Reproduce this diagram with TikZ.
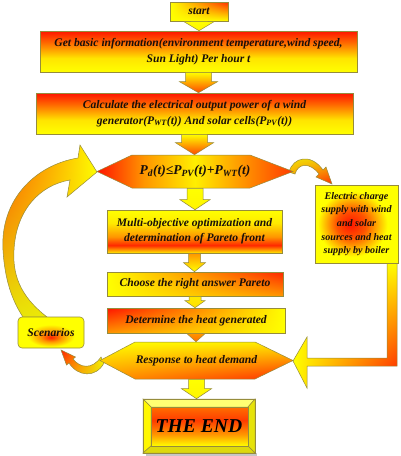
\documentclass[tikz,border=0pt]{standalone}
\usepackage{fontspec}
\setmainfont{Liberation Serif}
\usetikzlibrary{calc,shadings}

\definecolor{bord}{RGB}{150,140,60}
\definecolor{yel}{RGB}{255,255,0}
\definecolor{org}{RGB}{255,150,0}
\definecolor{rd}{RGB}{255,20,0}
\definecolor{olv}{RGB}{170,160,30}
\definecolor{txt}{RGB}{25,15,10}

\pgfdeclareverticalshading{redtop}{100bp}{color(0bp)=(yel); color(25bp)=(yel); color(42bp)=(yel!75!org); color(60bp)=(org!70!rd); color(75bp)=(rd); color(100bp)=(rd)}
\pgfdeclareverticalshading{redband}{100bp}{color(0bp)=(yel!80!org); color(25bp)=(yel!80!org); color(34bp)=(rd!85!org); color(44bp)=(org); color(60bp)=(yel!80!org); color(75bp)=(yel); color(100bp)=(yel)}
\pgfdeclarehorizontalshading{hexshade}{100bp}{color(0bp)=(rd); color(25bp)=(rd); color(37bp)=(org); color(50bp)=(yel!85!org); color(62bp)=(org); color(75bp)=(rd!70!org); color(100bp)=(rd!70!org)}
\pgfdeclareverticalshading{endshade}{100bp}{color(0bp)=(yel); color(25bp)=(yel); color(40bp)=(org); color(58bp)=(rd!70!org); color(75bp)=(org!70!rd); color(100bp)=(org!70!rd)}
\pgfdeclareradialshading{spotA}{\pgfpoint{-4bp}{0bp}}{color(0bp)=(rd); color(9bp)=(rd!50!org); color(21bp)=(yel); color(50bp)=(yel)}
\pgfdeclareradialshading{spotB}{\pgfpoint{0bp}{-8bp}}{color(0bp)=(rd!90!org); color(8bp)=(org); color(18bp)=(yel); color(50bp)=(yel)}

\tikzset{
  box/.style={draw=bord, line width=0.6pt, font=\fontsize{11.6}{15.5}\selectfont\bfseries\itshape, text=txt, align=center, inner sep=0pt},
  barrow/.style={draw=bord, line width=0.5pt},
  cshape/.style={draw=bord, line width=0.5pt},
}

\newcommand{\blockarr}[6]{%
  \path[barrow,#6] let \p1=(#1.south), \p2=(#2.north) in
    (\x1-#3pt,\y1) -- (\x1+#3pt,\y1) -- (\x1+#3pt,\y2+#5pt) -- (\x1+#4pt,\y2+#5pt) -- (\x1,\y2) -- (\x1-#4pt,\y2+#5pt) -- (\x1-#3pt,\y2+#5pt) -- cycle;}

\begin{document}
\begin{tikzpicture}[x=1pt,y=-1pt]
\useasboundingbox[fill=white] (0,0) rectangle (400,456);

% big curved arrow (scenarios -> decision)
\path[cshape, shading=bilinear interpolation, upper left=rd!55!org, upper right=yel, lower left=yel!70!olv, lower right=yel!85!olv]
  (97,172) -- (80,145) -- (78,158) .. controls (35,165) and (0,200) .. (3,250)
  .. controls (5,285) and (15,305) .. (23,317) -- (47,317)
  .. controls (25,300) and (12,280) .. (14,250) .. controls (16,210) and (40,185) .. (70,180)
  -- (67,197) -- cycle;

% small curved arrow decision -> charge box
\path[cshape, shading=bilinear interpolation, upper left=yel!80!olv, upper right=yel!80!olv, lower left=org, lower right=rd!80!org]
  (289,172) .. controls (293,157) and (311,153) .. (323,170) -- (326,167) -- (332,184) -- (316,177) -- (319,174)
  .. controls (310,162) and (298,163) .. (295,174) -- cycle;

% small curved arrow response -> scenarios
\path[cshape, shading=bilinear interpolation, upper left=rd!90!org, upper right=yel, lower left=org, lower right=yel!70!olv]
  (101,357) .. controls (92,370) and (80,368) .. (73,359) -- (75.5,357) -- (61,350) -- (66.5,365) -- (69,363)
  .. controls (78,377) and (96,378) .. (104,363) -- cycle;

% L arrow charge box -> response
\path[cshape, shading=bilinear interpolation, upper left=yel, upper right=yel, lower left=yel, lower right=rd]
  (387,262) -- (397,262) -- (397,366) -- (307,366) -- (307,388) -- (293,361) -- (307,337) -- (307,358) -- (387,358) -- cycle;

% boxes
\node[box, shading=bilinear interpolation, upper left=yel, upper right=rd!80!org, lower left=yel, lower right=yel,
      minimum width=58, minimum height=19] (start) at (199,11.5) {start};
\node[box, shading=redtop, minimum width=317, minimum height=41] (info) at (198.5,51.5)
  {Get basic information(environment temperature,wind speed,\\Sun Light) Per hour t};
\node[box, shading=redtop, minimum width=317, minimum height=41] (calc) at (194.5,113.5)
  {Calculate the electrical output power of a wind\\generator(P\textsubscript{WT}(t)) And solar cells(P\textsubscript{PV}(t))};

\path[cshape, shading=hexshade] (97,171.5) -- (132,155) -- (250,155) -- (293,171.5) -- (250,188) -- (132,188) -- cycle;
\node[box, draw=none, font=\fontsize{13.5}{15}\selectfont\bfseries\itshape, minimum width=196, minimum height=33] (hexA) at (195,171.5)
  {P\textsubscript{d}(t)≤P\textsubscript{PV}(t)+P\textsubscript{WT}(t)};

\node[box, shading=redband, minimum width=175, minimum height=43, font=\fontsize{11.6}{15}\selectfont\bfseries\itshape] (multi) at (194.5,231.5)
  {Multi-objective optimization and\\determination of Pareto front};
\node[box, shading=bilinear interpolation, upper left=yel, upper right=rd!85!org, lower left=yel, lower right=org,
      minimum width=176, minimum height=24] (choose) at (195,284) {Choose the right answer Pareto};
\node[box, shading=bilinear interpolation, upper left=rd, upper right=yel, lower left=org, lower right=yel,
      minimum width=178, minimum height=25] (det) at (196,320.5) {Determine the heat generated};

\path[cshape, shading=bilinear interpolation, upper left=yel, upper right=yel!80!org, lower left=org, lower right=rd!80!org]
  (100,360.5) -- (135,342) -- (255,342) -- (293,360.5) -- (255,379) -- (135,379) -- cycle;
\node[box, draw=none, minimum width=193, minimum height=37] (resp) at (196.5,360.5) {Response to heat demand};

% end box
\fill[gray!45] (146,453) rectangle (257,456);
\path[cshape, fill=yel!55!white] (143,399) -- (255,399) -- (248,407) -- (151,407) -- cycle;
\path[cshape, fill=yel!92!org] (143,399) -- (151,407) -- (151,446) -- (143,453) -- cycle;
\path[cshape, fill=yel!70!olv] (255,399) -- (255,453) -- (248,446) -- (248,407) -- cycle;
\path[cshape, fill=yel!60!olv] (143,453) -- (255,453) -- (248,446) -- (151,446) -- cycle;
\path[cshape, shading=endshade] (151,407) rectangle (248,446);
\node[box, font=\fontsize{19.6}{22}\selectfont\bfseries\itshape, text=black, minimum width=112, minimum height=54] (theend) at (199,426) {THE END};

\node[box, shading=spotA, minimum width=83, minimum height=78, font=\fontsize{10.1}{13.6}\selectfont\bfseries\itshape] (charge) at (356.5,224)
  {Electric charge\\supply with wind\\and solar\\sources and heat\\supply by boiler};
\node[box, shading=spotB, rounded corners=4pt, minimum width=66, minimum height=31] (scen) at (51,332.5) {Scenarios};

% straight block arrows
\blockarr{start}{info}{9}{15}{9}{shading=bilinear interpolation, upper left=yel, upper right=yel, lower left=yel!90!org, lower right=yel!90!org}
\blockarr{info}{calc}{13}{19}{11}{top color=yel, bottom color=rd!60!org}
\blockarr{calc}{hexA}{13}{19}{12}{top color=yel, bottom color=rd!60!org}
\blockarr{hexA}{multi}{8}{15}{10}{top color=yel, bottom color=yel!90!org}
\blockarr{multi}{choose}{6}{11}{9}{top color=org, bottom color=yel}
\blockarr{choose}{det}{6}{10}{7}{top color=yel!80!org, bottom color=yel!70!org}
\blockarr{det}{resp}{6}{9}{8}{top color=org, bottom color=org!70!rd}
\blockarr{resp}{theend}{8}{15}{10}{top color=yel, bottom color=yel!90!org}
\end{tikzpicture}
\end{document}
